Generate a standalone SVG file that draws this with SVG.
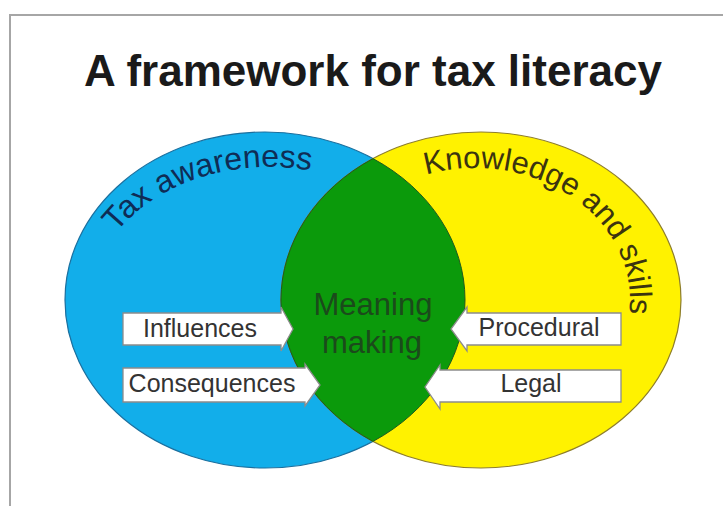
<svg xmlns="http://www.w3.org/2000/svg" width="723" height="506" viewBox="0 0 723 506">
<style>
.title{font-family:"Liberation Sans",Arial,sans-serif;font-weight:bold;font-size:44px;fill:#1a1a1a}
.arc{font-family:"Liberation Sans",Arial,sans-serif;font-size:32px}
.arcy{font-family:"Liberation Sans",Arial,sans-serif;font-size:31px;fill:#3b3410}
.lbl{font-family:"Liberation Sans",Arial,sans-serif;font-size:25px;fill:#333;text-anchor:middle}
.mid{font-family:"Liberation Sans",Arial,sans-serif;font-size:31px;fill:#1b4a1b;text-anchor:middle}
.box{fill:#fff;stroke:#8c8c8c;stroke-width:1.3}
</style>
<defs>
<path id="pBlue" d="M92,300 A178,133 0 0 1 448,300"/>
<path id="pYellow" d="M320,300 A155,132 0 0 1 630,300 A155,132 0 0 1 475,432"/>
</defs>
<rect x="0" y="0" width="723" height="506" fill="#fff"/>
<rect x="10" y="15" width="740" height="520" fill="#fff" stroke="#a6a6a6" stroke-width="2"/>
<g id="title"><text class="title" x="373" y="86" text-anchor="middle">A framework for tax literacy</text></g>
<g id="tax-awareness">
<ellipse cx="265" cy="300" rx="200" ry="168" fill="#12aeea" stroke="#1b6f9e" stroke-width="1.2"/>
</g>
<g id="knowledge-skills">
<ellipse cx="481" cy="300" rx="200" ry="168" fill="#fff200" stroke="#8d7d2c" stroke-width="1.2"/>
</g>
<g id="meaning-making">
<path d="M373,158.6 A200,168 0 0 1 373,441.4 A200,168 0 0 1 373,158.6 Z" fill="#0b9a0b" stroke="#1f5a1f" stroke-width="1"/>
<text class="mid" x="373" y="315">Meaning</text>
<text class="mid" x="372" y="353">making</text>
</g>
<g id="tax-awareness-label"><text class="arc" fill="#0f2c55"><textPath href="#pBlue" startOffset="73">Tax awareness</textPath></text></g>
<g id="knowledge-skills-label">
<text class="arcy"><textPath href="#pYellow" startOffset="176">Knowledge and</textPath></text>
<text class="arcy"><textPath href="#pYellow" startOffset="398">skills</textPath></text>
</g>
<g id="connectors">
<g id="influences">
<path class="box" d="M123,313 H281 V307 L293,329 L281,351 V345 H123 Z"/>
<text class="lbl" x="200" y="337">Influences</text>
</g>
<g id="consequences">
<path class="box" d="M123,368 H305 V364 L320,385 L305,406 V402 H123 Z"/>
<text class="lbl" x="212" y="392">Consequences</text>
</g>
<g id="procedural">
<path class="box" d="M621,313 H467 V307 L451,329 L467,351 V345 H621 Z"/>
<text class="lbl" x="539" y="336">Procedural</text>
</g>
<g id="legal">
<path class="box" d="M621,370 H440 V365 L425,387 L440,409 V402 H621 Z"/>
<text class="lbl" x="531" y="392">Legal</text>
</g>
</g>
</svg>
